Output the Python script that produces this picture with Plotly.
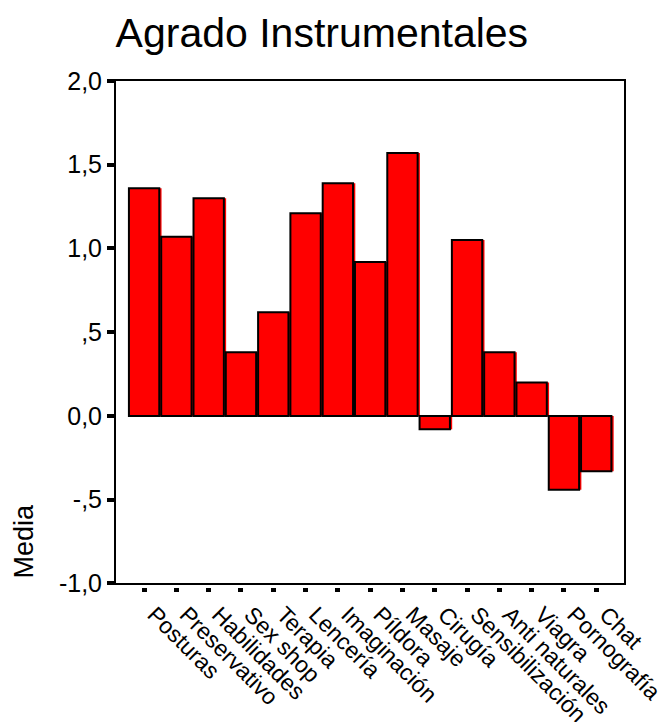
import plotly.graph_objects as go

categorias = [
    "Posturas", "Preservativo", "Habilidades", "Sex shop", "Terapia",
    "Lencería", "Imaginación", "Píldora", "Masaje", "Cirugía",
    "Sensibilización", "Anti naturales", "Viagra", "Pornografía", "Chat",
]
medias = [
    1.36, 1.07, 1.30, 0.38, 0.62,
    1.21, 1.39, 0.92, 1.57, -0.08,
    1.05, 0.38, 0.20, -0.44, -0.33,
]
y_ticks = [2.0, 1.5, 1.0, 0.5, 0.0, -0.5, -1.0]
y_ticktext = ["2,0", "1,5", "1,0", ",5", "0,0", "-,5", "-1,0"]

FONT = "Liberation Sans, Arial, sans-serif"
ROJO = "#ff0000"
ANCHO = 0.94
X_RANGE = [-0.87, 14.86]

# the page body adds an 8px margin, so the figure is a bit smaller than the window
W, H = 658, 714

fig = go.Figure()

# sombra roja desplazada a la derecha (estilo SPSS)
fig.add_trace(go.Bar(
    x=categorias, y=medias,
    width=ANCHO, offset=-ANCHO / 2 + 0.07,
    marker=dict(color=ROJO, line=dict(width=0)),
    hoverinfo="skip", showlegend=False,
))
fig.add_trace(go.Bar(
    x=categorias, y=medias, xaxis="x2",
    width=ANCHO,
    marker=dict(color=ROJO, line=dict(color="black", width=2)),
    showlegend=False,
))

fig.update_layout(
    width=W, height=H,
    barmode="overlay",
    plot_bgcolor="white", paper_bgcolor="white",
    margin=dict(l=108, r=42, t=73, b=135),
    font=dict(family=FONT, color="black", size=23),
    title=dict(
        text="Agrado Instrumentales",
        font=dict(family=FONT, size=41, color="black"),
        xref="container", x=0.477, xanchor="center",
        yref="container", y=0.965, yanchor="middle",
    ),
    xaxis=dict(
        range=X_RANGE,
        showline=True, linecolor="black", linewidth=2, mirror=True,
        ticks="", showticklabels=False,
        showgrid=False, zeroline=False, automargin=False,
    ),
    xaxis2=dict(
        range=X_RANGE, overlaying="x", anchor="free", position=0,
        showline=False,
        ticks="outside", ticklen=4, tickwidth=5, tickcolor="black",
        tickangle=45, tickfont=dict(size=23), ticklabelshift=10,
        showgrid=False, zeroline=False, automargin=False,
    ),
    yaxis=dict(
        range=[-1.0, 2.0], domain=[0.007, 1],
        tickvals=y_ticks, ticktext=y_ticktext,
        showline=True, linecolor="black", linewidth=2, mirror=True,
        ticks="outside", ticklen=7, tickwidth=4, tickcolor="black",
        tickfont=dict(size=25),
        showgrid=False, zeroline=False, automargin=False,
    ),
    annotations=[dict(
        text="Media", textangle=-90,
        xref="paper", yref="paper", x=-0.181, y=0.09,
        xanchor="center", yanchor="middle", showarrow=False,
        font=dict(family=FONT, size=27, color="black"),
    )],
)

fig.write_html("out.html")
